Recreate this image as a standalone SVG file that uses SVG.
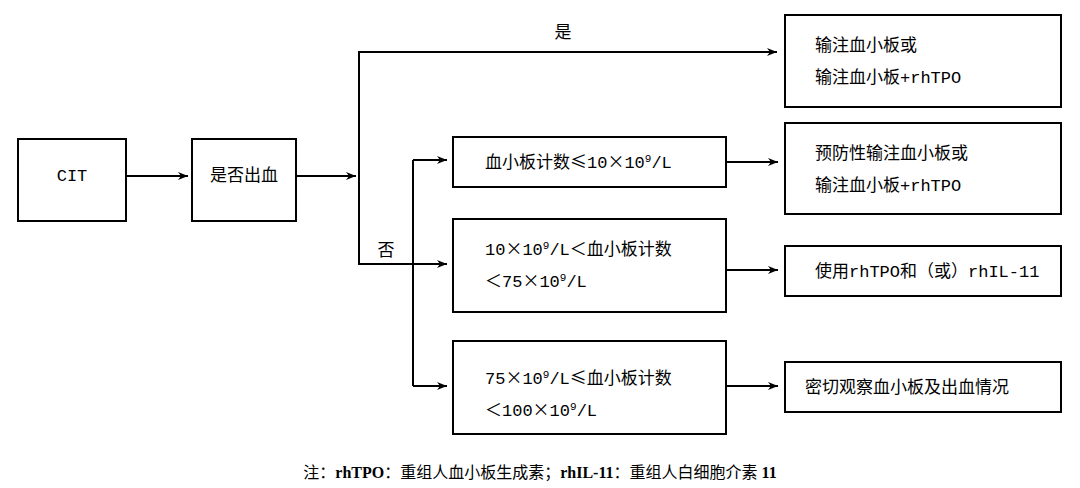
<svg xmlns="http://www.w3.org/2000/svg" width="1080" height="488" viewBox="0 0 1080 488">
<style>
.b{fill:#fff;stroke:#000;stroke-width:2}
.l{fill:none;stroke:#000;stroke-width:2}
text{font-family:"Liberation Mono","Noto Sans CJK SC",monospace;font-size:17px;fill:#000}
.k{font-family:"Noto Sans CJK SC",sans-serif}
.f{font-family:"Liberation Serif","Noto Sans CJK SC",serif;font-size:16px}
.c{text-anchor:middle}
</style>
<defs><marker id="a" viewBox="0 0 10 10" refX="10" refY="5" markerWidth="10" markerHeight="10" markerUnits="userSpaceOnUse" orient="auto"><path d="M0,1L10,5L0,9L3,5z" fill="#000"/></marker></defs>
<rect width="1080" height="488" fill="#fff"/>
<g id="connectors">
<path class="l" d="M126,176H188" marker-end="url(#a)"/>
<path class="l" d="M296,176H356" marker-end="url(#a)"/>
<path class="l" d="M359,264V52H777" marker-end="url(#a)"/>
<path class="l" d="M359,176V264H447" marker-end="url(#a)"/>
<path class="l" d="M413,160V386"/>
<path class="l" d="M413,160H447" marker-end="url(#a)"/>
<path class="l" d="M413,386H447" marker-end="url(#a)"/>
<path class="l" d="M726,162H778" marker-end="url(#a)"/>
<path class="l" d="M726,270H778" marker-end="url(#a)"/>
<path class="l" d="M726,386H778" marker-end="url(#a)"/>
<text x="563" y="38" class="c">是</text>
<text x="386" y="256" class="c">否</text>
</g>
<g id="cit"><rect class="b" x="18" y="139" width="108" height="82"/><text x="72" y="181" class="c">CIT</text></g>
<g id="bleed"><rect class="b" x="192" y="139" width="104" height="82"/><text x="244" y="181" class="c">是否出血</text></g>
<g id="n1"><rect class="b" x="453" y="137" width="273" height="50"/><text x="485" y="168">血小板计数<tspan class="k">≤</tspan>10<tspan class="k">×</tspan>10<tspan font-size="11" dy="-6">9</tspan><tspan dy="6">/L</tspan></text></g>
<g id="n2"><rect class="b" x="453" y="219" width="273" height="93"/><text x="485" y="255">10<tspan class="k">×</tspan>10<tspan font-size="11" dy="-6">9</tspan><tspan dy="6">/L</tspan><tspan class="k">＜</tspan>血小板计数</text><text x="485" y="287"><tspan class="k">＜</tspan>75<tspan class="k">×</tspan>10<tspan font-size="11" dy="-6">9</tspan><tspan dy="6">/L</tspan></text></g>
<g id="n3"><rect class="b" x="453" y="341" width="273" height="93"/><text x="485" y="384">75<tspan class="k">×</tspan>10<tspan font-size="11" dy="-6">9</tspan><tspan dy="6">/L</tspan><tspan class="k">≤</tspan>血小板计数</text><text x="485" y="416"><tspan class="k">＜</tspan>100<tspan class="k">×</tspan>10<tspan font-size="11" dy="-6">9</tspan><tspan dy="6">/L</tspan></text></g>
<g id="r0"><rect class="b" x="785" y="15" width="276" height="92"/><text x="815" y="51">输注血小板或</text><text x="815" y="83">输注血小板+rhTPO</text></g>
<g id="r1"><rect class="b" x="785" y="123" width="276" height="91"/><text x="815" y="159">预防性输注血小板或</text><text x="815" y="191">输注血小板+rhTPO</text></g>
<g id="r2"><rect class="b" x="785" y="246" width="276" height="50"/><text x="815" y="277">使用rhTPO和（或）rhIL-11</text></g>
<g id="r3"><rect class="b" x="785" y="362" width="276" height="50"/><text x="805" y="393">密切观察血小板及出血情况</text></g>
<text x="540" y="478" class="c f">注：<tspan font-weight="bold">rhTPO</tspan>：重组人血小板生成素；<tspan font-weight="bold">rhIL-11</tspan>：重组人白细胞介素 <tspan font-weight="bold">11</tspan></text>
</svg>
